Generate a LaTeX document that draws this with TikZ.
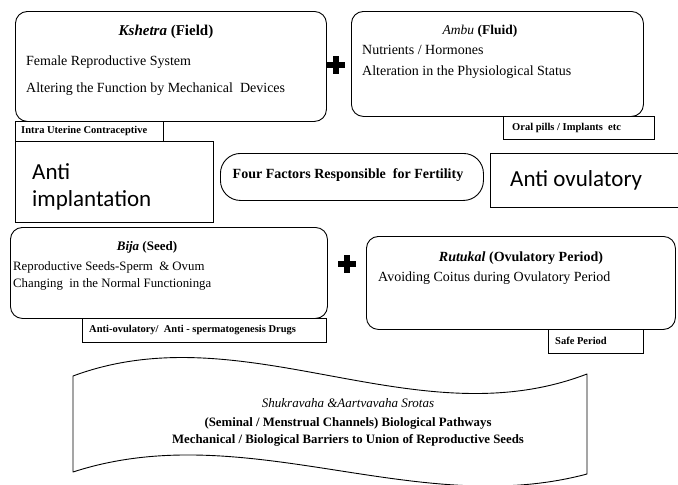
\documentclass[tikz,border=0pt]{standalone}
\usepackage{fontspec}
\setmainfont{Liberation Serif}
\newfontfamily\calib{Carlito}
\begin{document}
\begin{tikzpicture}[x=1pt,y=-1pt,
  rbox/.style={draw,line width=0.9pt,rounded corners=12pt,inner sep=0pt,anchor=north west},
  sbox/.style={draw,line width=0.8pt,inner sep=0pt,anchor=north west},
  tline/.style={anchor=west,inner sep=0pt,font=\fontsize{14}{16}\selectfont},
  ttitle/.style={anchor=center,inner sep=0pt,font=\fontsize{14}{16}\selectfont\bfseries},
  slabel/.style={anchor=west,inner sep=0pt,font=\fontsize{10.5}{12}\selectfont\bfseries},
  clabel/.style={anchor=west,inner sep=0pt,font=\calib\fontsize{23}{27}\selectfont},
  bline/.style={anchor=center,inner sep=0pt,font=\fontsize{12.8}{15}\selectfont\bfseries}]
\useasboundingbox (0,0) rectangle (678,485);
\fill[white] (0,0) rectangle (678,485);

% Kshetra
\node[rbox,minimum width=311pt,minimum height=110pt] (kb) at (15,11) {};
\node[ttitle,font=\fontsize{15}{17}\selectfont\bfseries] (kt) at (166,32) {\textit{Kshetra} (Field)};
\node[tline] (k1) at (26,62) {Female Reproductive System};
\node[tline] (k2) at (26,89) {Altering the Function by Mechanical\ \ Devices};
\node[sbox,minimum width=148pt,minimum height=20pt] (iub) at (15,121) {};
\node[slabel] (iut) at (21,131) {Intra\ Uterine Contraceptive};

% Ambu
\node[rbox,minimum width=292pt,minimum height=105pt] (ab) at (351,11) {};
\node[ttitle,font=\fontsize{13.5}{16}\selectfont\bfseries] (at) at (480,31) {\textit{\mdseries Ambu} (Fluid)};
\node[tline] (a1) at (362,50) {Nutrients / Hormones};
\node[tline] (a2) at (362,72) {Alteration in the Physiological\ Status};
\node[sbox,minimum width=151pt,minimum height=23pt] (opb) at (503,116) {};
\node[slabel] (opt) at (512,128) {Oral pills / Implants\ \ etc};

% plus signs
\fill (333,56) rectangle (339,74);
\fill (327,62) rectangle (345,68);
\fill (344,255) rectangle (350,273);
\fill (338,261) rectangle (356,267);

% middle row
\node[sbox,minimum width=198pt,minimum height=81pt] (aib) at (15,141) {};
\node[clabel] (ai1) at (32,172) {Anti};
\node[clabel] (ai2) at (32,200) {implantation};
\node[draw,line width=0.9pt,rounded corners=20pt,inner sep=0pt,minimum width=263pt,minimum height=47pt,anchor=north west] (ff) at (220,153) {};
\node[anchor=center,inner sep=0pt,font=\fontsize{14}{16}\selectfont\bfseries] (fft) at (348,175) {Four Factors Responsible\ \ for Fertility};
\node[sbox,minimum width=188pt,minimum height=54pt] (aob) at (490,153) {};
\node[clabel] (aot) at (510,180) {Anti ovulatory};

% Bija
\node[rbox,minimum width=317pt,minimum height=91pt] (bb) at (10,227) {};
\node[ttitle,font=\fontsize{13}{15}\selectfont\bfseries] (bt) at (147,247) {\textit{Bija} (Seed)};
\node[tline,font=\fontsize{12.8}{15}\selectfont] (b1) at (13,267) {Reproductive Seeds-Sperm\ \ \& Ovum};
\node[tline,font=\fontsize{12.8}{15}\selectfont] (b2) at (13,284) {Changing\ \ in the Normal Functioninga};
\node[sbox,minimum width=244pt,minimum height=24pt] (adb) at (82,318) {};
\node[slabel] (adt) at (89,330) {Anti-ovulatory/\ \ Anti - spermatogenesis Drugs};

% Rutukal
\node[rbox,minimum width=309pt,minimum height=93pt] (rb) at (366,236) {};
\node[ttitle] (rt) at (521,258) {\textit{Rutukal} (Ovulatory\ Period)};
\node[tline] (r1) at (378,278) {Avoiding\ Coitus during Ovulatory Period};
\node[sbox,minimum width=95pt,minimum height=24pt] (spb) at (548,329) {};
\node[slabel] (spt) at (555,341) {Safe Period};

% wave banner
\draw[line width=0.9pt,line join=round] (73,376) .. controls (245,312) and (415,440) .. (587,374)
  -- (587,474) .. controls (415,520) and (245,416) .. (73,472) -- cycle;
\node[anchor=center,inner sep=0pt,font=\fontsize{13}{15}\selectfont\itshape] (w1) at (348,403) {Shukravaha \&Aartvavaha Srotas};
\node[bline] (w2) at (348,423) {(Seminal / Menstrual Channels) Biological Pathways};
\node[bline] (w3) at (348,440) {Mechanical / Biological Barriers to Union of Reproductive Seeds};
\end{tikzpicture}
\end{document}
